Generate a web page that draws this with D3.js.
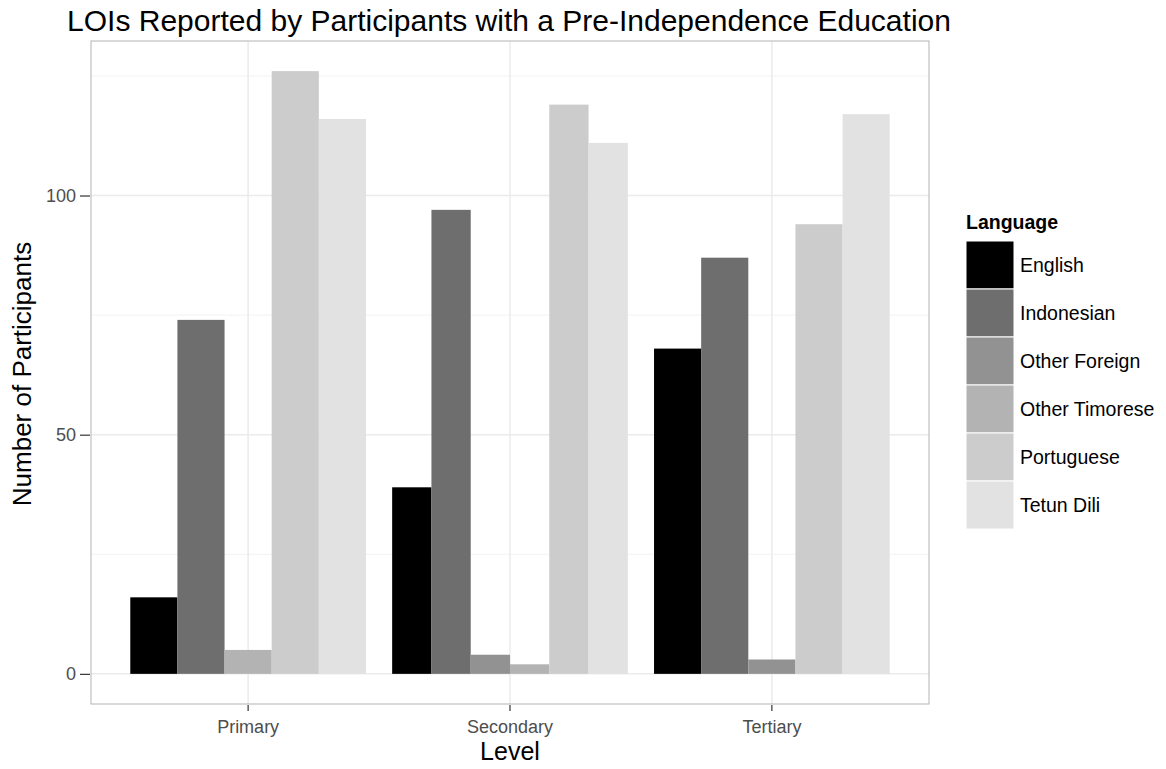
<!DOCTYPE html>
<html><head><meta charset="utf-8">
<script src="https://cdn.jsdelivr.net/npm/d3@7"></script>
<style>body{margin:0;background:#fff;} text{font-family:"Liberation Sans",Arial,sans-serif;}</style>
</head><body><svg id="c" width="1166" height="769"></svg>
<script>
const levels = ["Primary", "Secondary", "Tertiary"];
const languages = ["English", "Indonesian", "Other Foreign", "Other Timorese", "Portuguese", "Tetun Dili"];
const fills = ["#000000", "#6e6e6e", "#929292", "#b3b3b3", "#cccccc", "#e2e2e2"];
// null = language not reported at that level
const primaryVals   = [16, 74, null, 5, 126, 116];
const secondaryVals = [39, 97, 4, 2, 119, 111];
const tertiaryVals  = [68, 87, 3, null, 94, 117];
const yTicks = [0, 50, 100];
const yMinor = [25, 75, 125];

const valsByLevel = [primaryVals, secondaryVals, tertiaryVals];
const svg = d3.select("#c");
const L = 91, R = 929, T = 41, B = 704;
const FONT = "Liberation Sans, Arial, sans-serif";

const maxV = d3.max(valsByLevel.flat());
const y = d3.scaleLinear().domain([-0.05*maxV, maxV*1.05]).range([B, T]);
const x = d3.scaleBand().domain(levels).range([L, R]).paddingInner(0.1).paddingOuter(0.15);
const color = d3.scaleOrdinal().domain(languages).range(fills);

const g = svg.append("g");
g.append("rect").attr("x", L).attr("y", T).attr("width", R-L).attr("height", B-T).attr("fill", "#fff");
g.selectAll(".ym").data(yMinor).join("line")
  .attr("x1", L).attr("x2", R).attr("y1", d => y(d)).attr("y2", d => y(d))
  .attr("stroke", "#f2f2f2").attr("stroke-width", 1);
g.selectAll(".yM").data(yTicks).join("line")
  .attr("x1", L).attr("x2", R).attr("y1", d => y(d)).attr("y2", d => y(d))
  .attr("stroke", "#ebebeb").attr("stroke-width", 1.5);
g.selectAll(".xM").data(levels).join("line")
  .attr("x1", d => x(d) + x.bandwidth()/2).attr("x2", d => x(d) + x.bandwidth()/2)
  .attr("y1", T).attr("y2", B)
  .attr("stroke", "#ebebeb").attr("stroke-width", 1.5);

levels.forEach((lv, i) => {
  const present = languages.map((lang, j) => ({lang, v: valsByLevel[i][j]})).filter(d => d.v !== null);
  const inner = d3.scaleBand().domain(present.map(d => d.lang)).range([x(lv), x(lv) + x.bandwidth()]);
  g.append("g").selectAll("rect").data(present).join("rect")
    .attr("x", d => inner(d.lang)).attr("width", inner.bandwidth())
    .attr("y", d => y(d.v)).attr("height", d => y(0) - y(d.v))
    .attr("fill", d => color(d.lang));
});

g.append("rect").attr("x", L).attr("y", T).attr("width", R-L).attr("height", B-T)
  .attr("fill", "none").attr("stroke", "#b3b3b3").attr("stroke-width", 1);

const yAxis = d3.axisLeft(y).tickValues(yTicks).tickSize(10).tickPadding(4);
const ya = svg.append("g").attr("transform", `translate(${L - 1},0)`).call(yAxis);
ya.select(".domain").remove();
ya.selectAll("line").attr("stroke", "#333").attr("stroke-width", 1.2);
ya.selectAll("text").attr("fill", "#4d4d4d").style("font-size", "18px").style("font-family", FONT);

const xAxis = d3.axisBottom(x).tickSize(6).tickPadding(9);
const xa = svg.append("g").attr("transform", `translate(0,${B + 1})`).call(xAxis);
xa.select(".domain").remove();
xa.selectAll("line").attr("stroke", "#333").attr("stroke-width", 1.2);
xa.selectAll("text").attr("fill", "#4d4d4d").style("font-size", "18px").style("font-family", FONT);

svg.append("text").attr("x", 509).attr("y", 31).attr("text-anchor", "middle")
  .style("font-size", "30px").attr("fill", "#000")
  .text("LOIs Reported by Participants with a Pre-Independence Education");
svg.append("text").attr("x", (L+R)/2).attr("y", 760).attr("text-anchor", "middle")
  .style("font-size", "25px").attr("fill", "#000").text("Level");
svg.append("text").attr("transform", `translate(31,374) rotate(-90)`).attr("text-anchor", "middle")
  .style("font-size", "26px").attr("fill", "#000").text("Number of Participants");

const lg = svg.append("g").attr("transform", "translate(966,0)");
lg.append("text").attr("x", 0).attr("y", 229).style("font-size", "19.5px").style("font-weight", "bold").text("Language");
const keyH = 48, keyW = 48, key0 = 241;
lg.selectAll(".k").data(languages).join("rect")
  .attr("x", 0).attr("y", (d, i) => key0 + i*keyH).attr("width", keyW).attr("height", keyH)
  .attr("fill", d => color(d)).attr("stroke", "#fff").attr("stroke-width", 1);
lg.selectAll(".kt").data(languages).join("text")
  .attr("x", keyW + 6).attr("y", (d, i) => key0 + i*keyH + keyH/2 + 7)
  .style("font-size", "19.5px").attr("fill", "#000").text(d => d);
</script></body></html>
